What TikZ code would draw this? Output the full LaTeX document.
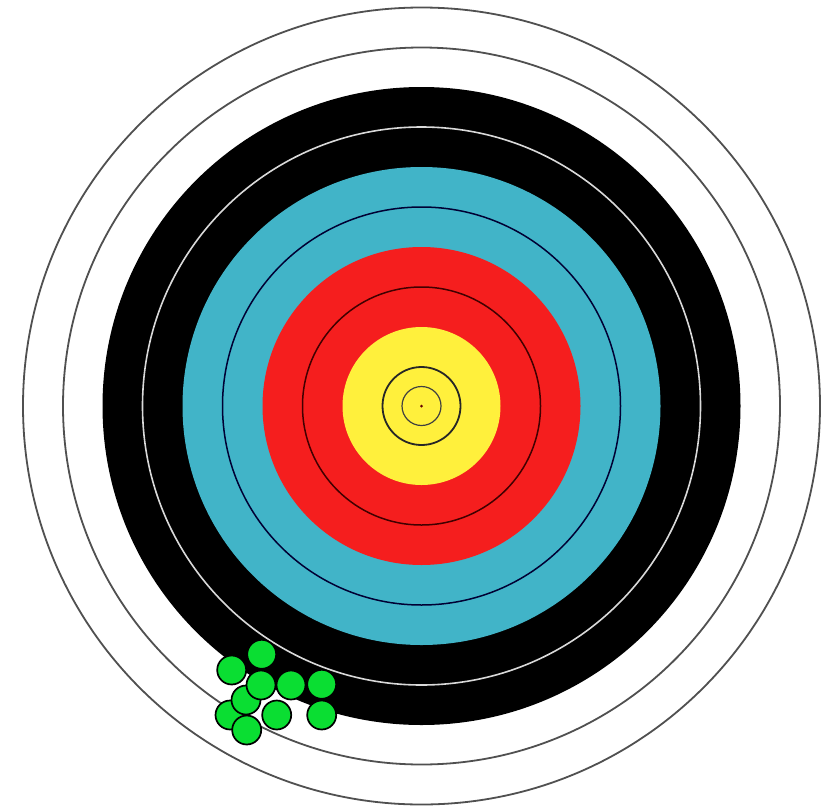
\documentclass[tikz,border=0pt]{standalone}
\definecolor{tblue}{RGB}{65,180,200}
\definecolor{tred}{RGB}{245,30,30}
\definecolor{tyellow}{RGB}{255,240,60}
\definecolor{tgreen}{RGB}{10,222,50}
\definecolor{tgrey}{RGB}{80,80,80}
\tikzset{
  ringline/.style={draw=tgrey,line width=1.8pt},
  innerline/.style={draw=black!85,line width=1.5pt},
  hit/.style={fill=tgreen,draw=black,line width=1.7pt},
}
\begin{document}
\begin{tikzpicture}[x=1pt,y=-1pt]
\useasboundingbox (0,0) rectangle (838,806);
\fill[white] (0,0) rectangle (838,806);
\coordinate (c) at (421.5,406);
\draw[ringline,fill=white] (c) circle (398.5pt);
\draw[ringline] (c) circle (358.5pt);
\fill[black] (c) circle (319pt);
\draw[draw=white!85!black,line width=1.6pt] (c) circle (279pt);
\fill[tblue] (c) circle (239pt);
\draw[innerline,draw=black!80!blue] (c) circle (199pt);
\fill[tred] (c) circle (159pt);
\draw[innerline,draw=black!75!red] (c) circle (119pt);
\fill[tyellow] (c) circle (79pt);
\draw[draw=black!85,line width=1.8pt] (c) circle (39pt);
\draw[draw=black!75,line width=1.2pt] (c) circle (19.5pt);
\fill[black!60!red] (c) circle (1.5pt);
% arrow hits
\foreach \x/\y in {261.7/654.3, 231.7/670, 291/685, 321.7/684.3, 276.7/715, 321.7/715, 230/715, 246/700, 261/685, 246.7/730}
  \draw[hit] (\x,\y) circle (14.5pt);
\end{tikzpicture}
\end{document}
